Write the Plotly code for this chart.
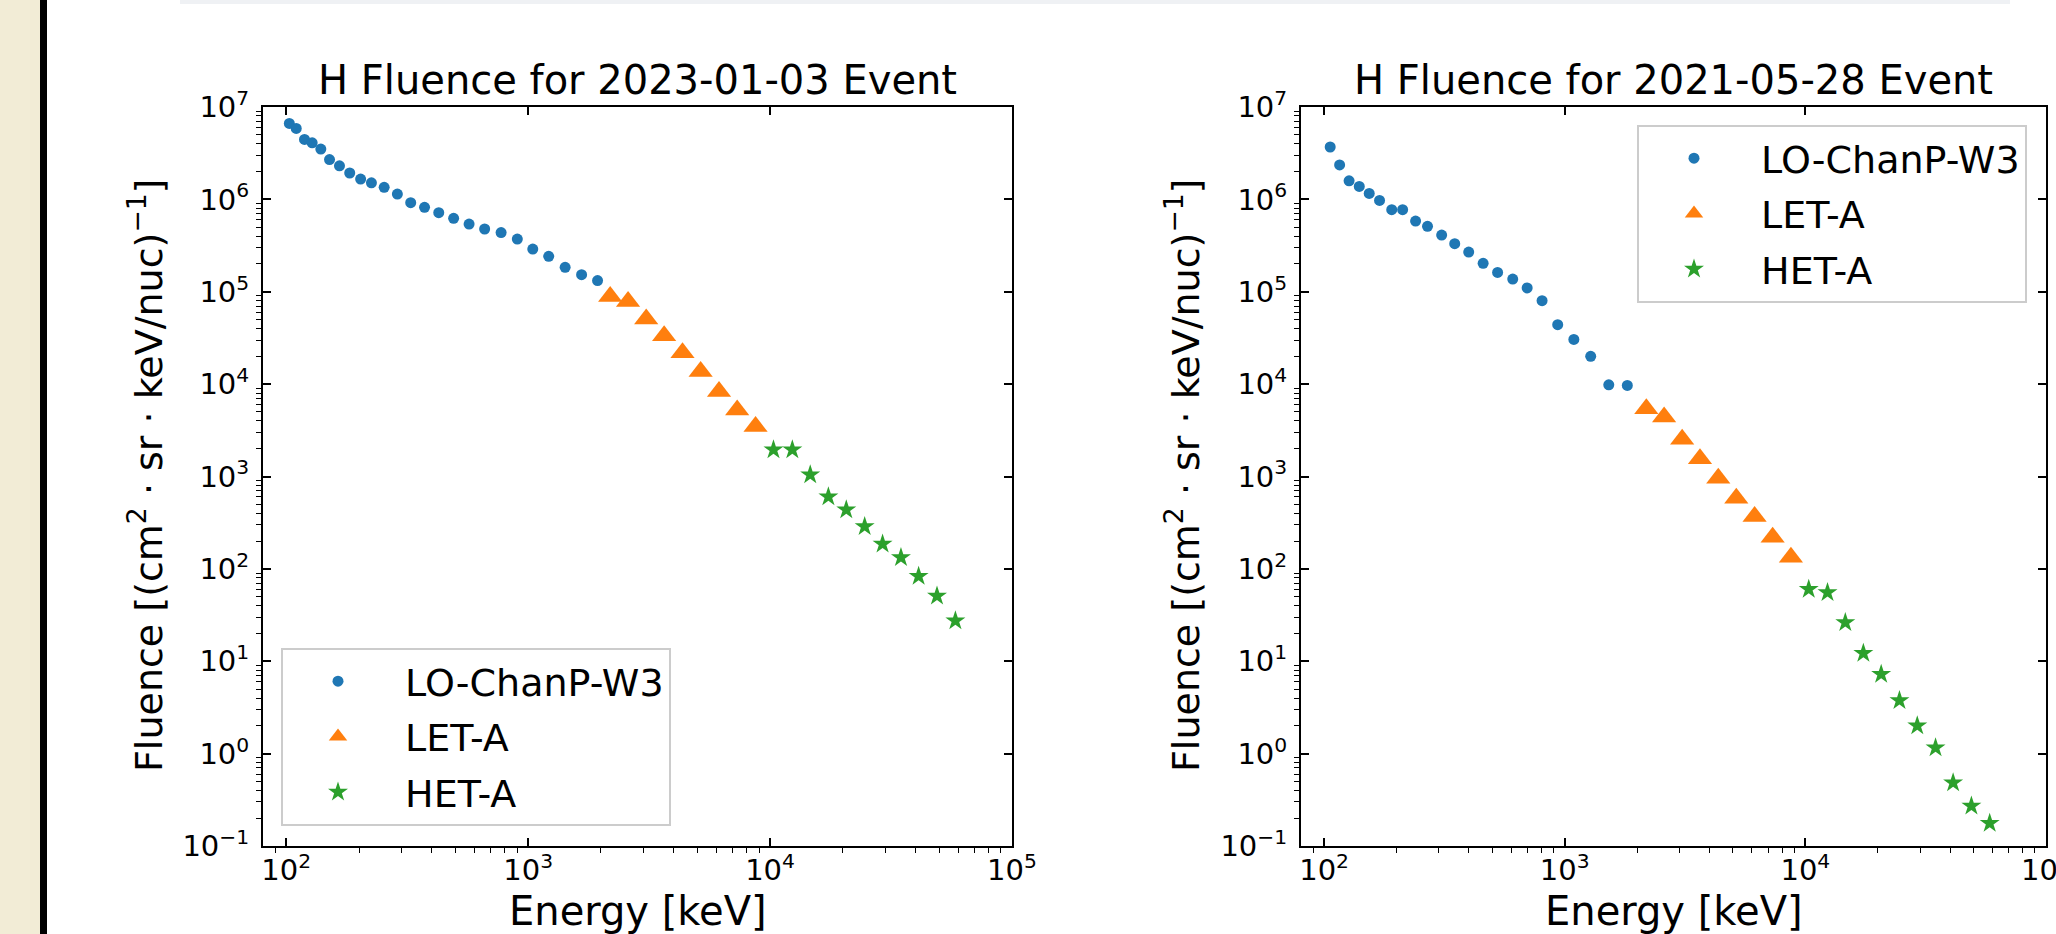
import plotly.graph_objects as go

# ---------------- data ----------------
series_names = ["LO-ChanP-W3", "LET-A", "HET-A"]
titles = ["H Fluence for 2023-01-03 Event", "H Fluence for 2021-05-28 Event"]

# 2023-01-03 event
lo_energy_a = [103, 110, 119, 128, 139, 151, 166, 183, 203, 225, 254, 288, 327,
               373, 427, 492, 570, 661, 773, 902, 1045, 1216, 1422, 1663, 1936]
lo_fluence_a = [6.64e6, 5.86e6, 4.46e6, 4.10e6, 3.50e6, 2.70e6, 2.31e6, 1.93e6,
                1.66e6, 1.51e6, 1.35e6, 1.14e6, 9.2e5, 8.2e5, 7.18e5, 6.24e5,
                5.41e5, 4.78e5, 4.37e5, 3.72e5, 2.90e5, 2.42e5, 1.84e5, 1.53e5, 1.32e5]
let_energy = [2183, 2588, 3076, 3648, 4345, 5164, 6152, 7311, 8710]
let_fluence_a = [8.87e4, 7.83e4, 5.08e4, 3.33e4, 2.18e4, 1.37e4, 8.3e3, 5.24e3, 3.47e3]
het_energy = [10328, 12359, 14655, 17418, 20654, 24604, 29174, 34754, 41115, 48978, 58345]
het_fluence_a = [1950, 1950, 1047, 603, 437, 288, 186, 133, 83, 51, 27.5]

# 2021-05-28 event
lo_energy_b = [106, 116, 127, 140, 154, 170, 191, 212, 240, 269, 308, 349, 399,
               458, 526, 608, 698, 805, 935, 1091, 1282, 1524, 1820]
lo_fluence_b = [3.69e6, 2.36e6, 1.59e6, 1.38e6, 1.16e6, 9.75e5, 7.73e5, 7.73e5,
                5.82e5, 5.11e5, 4.11e5, 3.31e5, 2.69e5, 2.03e5, 1.62e5, 1.37e5,
                1.10e5, 8.0e4, 4.40e4, 3.05e4, 2.0e4, 9.84e3, 9.68e3]
let_fluence_b = [5410, 4395, 2535, 1552, 959, 582, 369, 220, 134]
het_fluence_b = [60.3, 55.5, 26.2, 12.2, 7.23, 3.75, 2.0, 1.16, 0.485, 0.271, 0.176]

x_tickvals = [1e2, 1e3, 1e4, 1e5]
x_ticktext = ["10<sup>2</sup>", "10<sup>3</sup>", "10<sup>4</sup>", "10<sup>5</sup>"]
y_tickvals = [1e-1, 1e0, 1e1, 1e2, 1e3, 1e4, 1e5, 1e6, 1e7]
y_ticktext = ["10<sup>−1</sup>", "10<sup>0</sup>", "10<sup>1</sup>", "10<sup>2</sup>",
              "10<sup>3</sup>", "10<sup>4</sup>", "10<sup>5</sup>", "10<sup>6</sup>",
              "10<sup>7</sup>"]
x_label = "Energy [keV]"
y_label = "Fluence [(cm<sup>2</sup> · sr · keV/nuc)<sup>−1</sup>]"

colors = ["#1f77b4", "#ff7f0e", "#2ca02c"]
FONT = "DejaVu Sans"
W, H = 2056, 934

x_minor = [m * 10 ** k for k in range(1, 5) for m in range(2, 10)]
y_minor = [m * 10 ** k for k in range(-2, 7) for m in range(2, 10)]

def px_x(p):
    return p / W

def px_y(p):
    return 1 - p / H

fig = go.Figure()

panels = [
    (lo_energy_a, lo_fluence_a, let_fluence_a, het_fluence_a, "x", "y", "legend"),
    (lo_energy_b, lo_fluence_b, let_fluence_b, het_fluence_b, "x2", "y2", "legend2"),
]
pad = "\u00a0"
for k, (lo_e, lo_f, let_f, het_f, xa, ya, lg) in enumerate(panels):
    fig.add_trace(go.Scatter(x=lo_e, y=lo_f, mode="markers", name=pad + series_names[0],
                             marker=dict(symbol="circle", size=11, color=colors[0]),
                             xaxis=xa, yaxis=ya, legend=lg, legendgroup=f"g{k}a"))
    fig.add_trace(go.Scatter(x=let_energy, y=let_f, mode="markers", name=pad + series_names[1],
                             marker=dict(symbol="triangle-up", size=21, color=colors[1]),
                             xaxis=xa, yaxis=ya, legend=lg, legendgroup=f"g{k}b"))
    fig.add_trace(go.Scatter(x=het_energy, y=het_f, mode="markers", name=pad + series_names[2],
                             marker=dict(symbol="star", size=15, color=colors[2]),
                             xaxis=xa, yaxis=ya, legend=lg, legendgroup=f"g{k}c"))

# helper traces so mirrored tick axes are drawn
for xa, ya in [("x3", "y"), ("x", "y3"), ("x4", "y2"), ("x2", "y4")]:
    fig.add_trace(go.Scatter(x=[None], y=[None], xaxis=xa, yaxis=ya, showlegend=False,
                             hoverinfo="skip", mode="markers"))

xr = [1.904, 5.0]
yr = [-1, 7]
x_domains = [[px_x(263), px_x(1012)], [px_x(1301), px_x(2046)]]
y_domain = [px_y(846), px_y(107)]

def main_x(dom, anchor):
    return dict(type="log", range=xr, domain=dom, anchor=anchor, automargin=False,
                tickmode="array", tickvals=x_tickvals, ticktext=x_ticktext,
                ticks="inside", ticklen=8, tickwidth=1.6, tickcolor="black",
                showline=True, linecolor="black", linewidth=2, mirror=True,
                showgrid=False, zeroline=False, ticklabeloverflow="allow",
                tickfont=dict(family=FONT, size=29, color="black"),
                ticklabelstandoff=-3,
                minor=dict(tickmode="array", tickvals=x_minor, ticks="outside",
                           ticklen=5, tickwidth=1.2, tickcolor="black", showgrid=False))

def main_y(anchor):
    return dict(type="log", range=yr, domain=y_domain, anchor=anchor, automargin=False,
                tickmode="array", tickvals=y_tickvals, ticktext=y_ticktext,
                ticks="inside", ticklen=8, tickwidth=1.6, tickcolor="black",
                showline=True, linecolor="black", linewidth=2, mirror=True,
                showgrid=False, zeroline=False, ticklabeloverflow="allow",
                tickfont=dict(family=FONT, size=29, color="black"),
                ticklabelstandoff=6,
                minor=dict(tickmode="array", tickvals=y_minor, ticks="outside",
                           ticklen=5, tickwidth=1.2, tickcolor="black", showgrid=False))

def mirror_x(over, anchor):
    return dict(type="log", range=xr, overlaying=over, anchor=anchor, side="top",
                automargin=False,
                tickmode="array", tickvals=x_tickvals, ticks="inside", ticklen=8,
                tickwidth=1.6, tickcolor="black", showticklabels=False,
                showline=False, showgrid=False, zeroline=False)

def mirror_y(over, anchor):
    return dict(type="log", range=yr, overlaying=over, anchor=anchor, side="right",
                automargin=False,
                tickmode="array", tickvals=y_tickvals, ticks="inside", ticklen=8,
                tickwidth=1.6, tickcolor="black", showticklabels=False,
                showline=False, showgrid=False, zeroline=False)

legend_common = dict(bgcolor="rgba(255,255,255,0.8)", bordercolor="#cccccc", borderwidth=2,
                     font=dict(family=FONT, size=38, color="black"), itemwidth=100,
                     tracegroupgap=3, traceorder="grouped")

annotations = []
for i, t in enumerate(titles):
    cx = (x_domains[i][0] + x_domains[i][1]) / 2
    annotations.append(dict(text=t, x=cx, y=px_y(80), xref="paper", yref="paper",
                            xanchor="center", yanchor="middle", showarrow=False,
                            font=dict(family=FONT, size=40, color="black")))
    annotations.append(dict(text=x_label, x=cx, y=px_y(911), xref="paper", yref="paper",
                            xanchor="center", yanchor="middle", showarrow=False,
                            font=dict(family=FONT, size=40, color="black")))
    ycx = [146, 1183][i]
    annotations.append(dict(text=y_label, x=px_x(ycx), y=px_y(476), xref="paper",
                            yref="paper", xanchor="center", yanchor="middle",
                            textangle=-90, showarrow=False,
                            font=dict(family=FONT, size=38, color="black")))

shapes = [
    dict(type="rect", xref="paper", yref="paper", x0=0, x1=px_x(40), y0=0, y1=1,
         fillcolor="#f2ecd6", line=dict(width=0), layer="below"),
    dict(type="rect", xref="paper", yref="paper", x0=px_x(40), x1=px_x(47), y0=0, y1=1,
         fillcolor="black", line=dict(width=0), layer="below"),
    dict(type="rect", xref="paper", yref="paper", x0=px_x(180), x1=px_x(2010),
         y0=px_y(4), y1=1, fillcolor="#eff1f4", line=dict(width=0), layer="below"),
]

fig.update_layout(
    width=W, height=H,
    margin=dict(l=0, r=0, t=0, b=0, autoexpand=False),
    paper_bgcolor="white", plot_bgcolor="white",
    font=dict(family=FONT, color="black"),
    xaxis=main_x(x_domains[0], "y"),
    yaxis=main_y("x"),
    xaxis2=main_x(x_domains[1], "y2"),
    yaxis2=main_y("x2"),
    xaxis3=mirror_x("x", "y"),
    yaxis3=mirror_y("y", "x"),
    xaxis4=mirror_x("x2", "y2"),
    yaxis4=mirror_y("y2", "x2"),
    legend=dict(x=px_x(281), y=px_y(826), xanchor="left", yanchor="bottom", **legend_common),
    legend2=dict(x=px_x(2027), y=px_y(125), xanchor="right", yanchor="top", **legend_common),
    annotations=annotations,
    shapes=shapes,
    showlegend=True,
)

fig.write_html("out.html", config={"displayModeBar": False},
               post_script="document.body.style.margin='0';document.body.style.overflow='hidden';")
